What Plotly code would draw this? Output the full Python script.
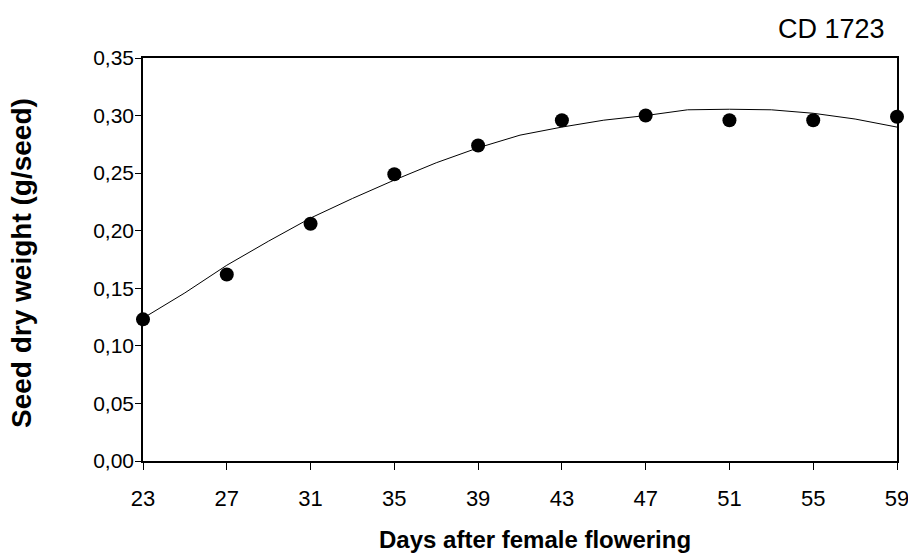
import plotly.graph_objects as go

days = [23, 27, 31, 35, 39, 43, 47, 51, 55, 59]
weight = [0.123, 0.162, 0.206, 0.249, 0.274, 0.296, 0.300, 0.296, 0.296, 0.299]

fit_days = [23, 25, 27, 29, 31, 33, 35, 37, 39, 41, 43, 45, 47, 49, 51, 53, 55, 57, 59]
fit_weight = [0.124, 0.146, 0.170, 0.191, 0.211, 0.228, 0.244, 0.259, 0.272, 0.283, 0.290,
              0.296, 0.300, 0.305, 0.3055, 0.305, 0.302, 0.297, 0.290]

x_ticks = [23, 27, 31, 35, 39, 43, 47, 51, 55, 59]
y_ticks = [0, 0.05, 0.10, 0.15, 0.20, 0.25, 0.30, 0.35]

W, H = 908, 553
L, R, T, B = 143, 11, 58, 92
PW, PH = W - L - R, H - T - B


def px(x):
    return (x - L) / PW


def py(y):
    return (H - B - y) / PH


fig = go.Figure()
fig.add_trace(go.Scatter(x=fit_days, y=fit_weight, mode="lines",
                         line=dict(color="black", width=1), showlegend=False,
                         hoverinfo="skip"))
fig.add_trace(go.Scatter(x=days, y=weight, mode="markers",
                         marker=dict(color="black", size=14), showlegend=False,
                         cliponaxis=False))

font = "Liberation Sans, Arial, sans-serif"
fig.update_layout(
    width=W, height=H,
    margin=dict(l=L, r=R, t=T, b=B),
    paper_bgcolor="white", plot_bgcolor="white",
    separators=", ",
    font=dict(family=font, color="black", size=22),
    xaxis=dict(range=[23, 59], tickvals=x_ticks, ticks="outside", ticklen=7,
               tickcolor="black", showline=True, linecolor="black", linewidth=1.5,
               mirror=True, showgrid=False, zeroline=False, automargin=False,
               ticklabeloverflow="allow", ticklabelstandoff=10,
               tickfont=dict(size=22)),
    yaxis=dict(range=[0, 0.35], tickvals=y_ticks, tickformat=".2f", ticks="outside",
               ticklen=6, tickcolor="black", showline=True, linecolor="black",
               linewidth=1.5, mirror=True, showgrid=False, zeroline=False,
               automargin=False, ticklabeloverflow="allow", ticklabelstandoff=-3,
               tickfont=dict(size=21)),
    annotations=[
        dict(text="CD 1723", x=px(887), xref="paper", xanchor="right",
             y=py(29), yref="paper", yanchor="middle", showarrow=False,
             font=dict(size=27)),
        dict(text="<b>Days after female flowering</b>", x=px(535), xref="paper",
             xanchor="center", y=py(539), yref="paper", yanchor="middle",
             showarrow=False, font=dict(size=24)),
        dict(text="<b>Seed dry weight (g/seed)</b>", x=px(21), xref="paper",
             xanchor="center", y=py(263), yref="paper", yanchor="middle",
             showarrow=False, textangle=-90, font=dict(size=28)),
    ],
)
fig.write_html("out.html", config={"displayModeBar": False},
               post_script="document.body.style.margin='0';document.body.style.overflow='hidden';")
